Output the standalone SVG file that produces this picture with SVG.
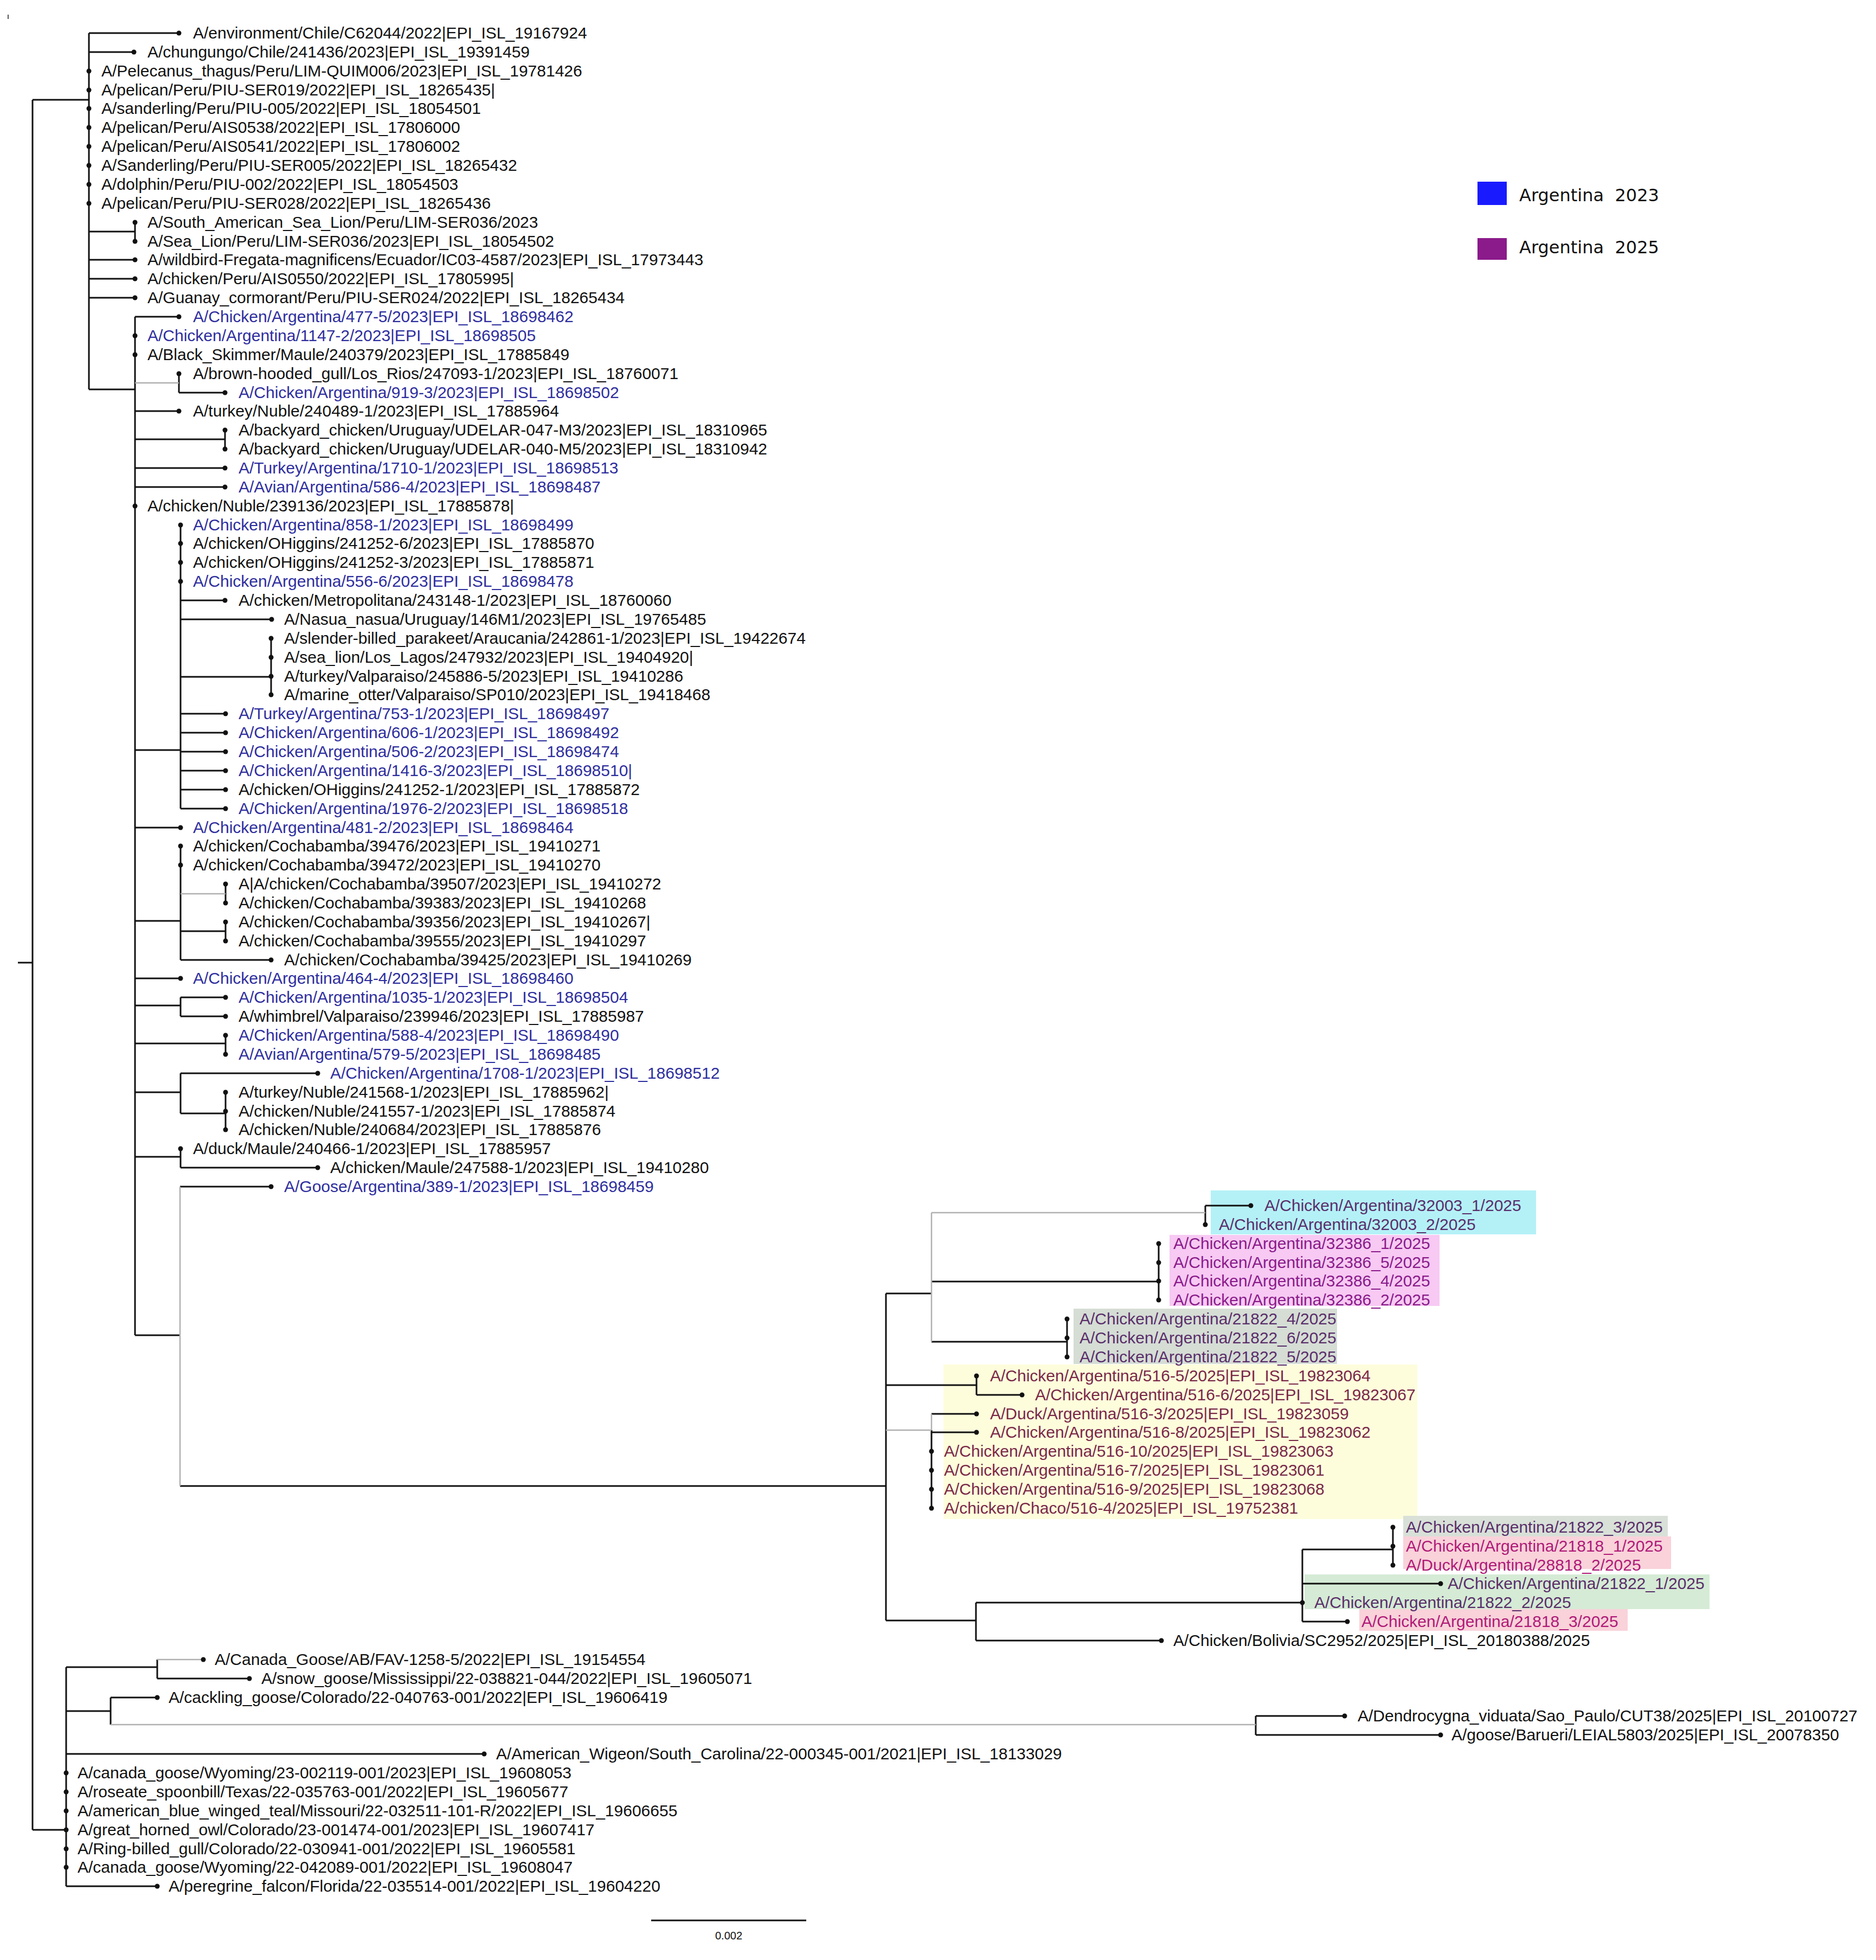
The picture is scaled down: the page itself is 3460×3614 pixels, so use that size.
<svg xmlns="http://www.w3.org/2000/svg" width="3460" height="3614" viewBox="0 0 3460 3614">
<style>
.e{stroke:#111;stroke-width:3;fill:none}
.g{stroke:#b0b0b0;stroke-width:2.5;fill:none}
.d{fill:#111}
text{font-family:"Liberation Sans",Arial,sans-serif;font-size:30px;fill:#111}
.b{fill:#2e2e9e}
.p{fill:#5a2e6a}
.m{fill:#8a1a8a}
.r{fill:#7a2848}
.k{fill:#b01a78}
.lg{font-family:"DejaVu Sans",sans-serif;font-size:32px;fill:#111}
</style>
<rect width="3460" height="3614" fill="#fff"/>
<g id="highlights">
<rect x="2233" y="2195" width="600" height="81" fill="#b4f1f7"/>
<rect x="2157" y="2277" width="498" height="131" fill="#f7c9f3"/>
<rect x="1980" y="2413" width="486" height="102" fill="#d5ddd5"/>
<rect x="1740" y="2516" width="874" height="285" fill="#fdfddc"/>
<rect x="2588" y="2795" width="488" height="38" fill="#d8e0d8"/>
<rect x="2588" y="2833" width="494" height="60" fill="#f9d2da"/>
<rect x="2406" y="2903" width="747" height="64" fill="#d5ebd5"/>
<rect x="2507" y="2967" width="495" height="40" fill="#f9d2da"/>
</g>
<g id="edges">
<path class="e" d="M33,1775H60 M60,184V3374 M60,184H164 M164,61V718 M164,61H330 M164,96H247 M164,427H249 M249,410V445 M164,479H249 M164,514H249 M164,549H249 M164,718H249 M249,584V2462 M249,584H330 M330,689V724 M330,724H415 M249,758H330 M249,810H415 M415,793V828 M249,863H415 M249,898H415"/>
<path class="e" d="M249,1383H333 M333,968V1491 M333,1107H415 M333,1142H501 M333,1248H500 M500,1177V1281 M333,1316H416 M333,1351H416 M333,1386H416 M333,1421H416 M333,1456H416 M333,1491H416 M249,1526H333"/>
<path class="e" d="M249,1698H333 M333,1560V1770 M416,1630V1665 M333,1717H416 M416,1700V1735 M333,1770H500 M249,1804H333 M249,1854H333 M333,1839V1874 M333,1839H416 M333,1874H416 M249,1924H416 M416,1909V1944 M249,2014H333 M333,1979V2053 M333,1979H586 M333,2053H416 M416,2014V2083 M249,2133H333 M333,2118V2153 M333,2153H586 M249,2462H332 M332,2188H500"/>
<path class="e" d="M332,2740H1634 M1634,2385V2988 M1634,2385H1718 M2223,2223V2258 M2223,2223H2307 M1718,2363H2137 M2137,2293V2397 M1718,2474H1968 M1968,2432V2502 M1634,2554H1801 M1801,2537V2572 M1801,2572H1885 M1718,2637V2781 M1718,2607H1801 M1718,2641H1801 M1634,2988H1800 M1800,2955V3025 M1800,2955H2402 M2402,2857V2990 M2402,2857H2569 M2569,2816V2886 M2402,2920H2657 M2402,2990H2485 M1800,3025H2142"/>
<path class="e" d="M60,3374H122 M122,3074V3478 M122,3074H290 M290,3060V3095 M290,3095H460 M122,3155H204 M204,3130V3180 M204,3130H290 M2316,3164V3199 M2316,3164H2480 M2316,3199H2657 M122,3234H893 M122,3478H290"/>
<path class="g" d="M249,706H330 M333,1648H416 M332,2188V2740 M1718,2236V2474 M1718,2236H2223 M1634,2637H1718 M1718,2607V2637 M204,3180H2316 M290,3060H375"/>
<path class="e" d="M1201,3541H1487"/>
<path stroke="#555" stroke-width="2" d="M15,27V35"/>
</g>
<g id="n1"><circle class="d" cx="330" cy="61" r="4.5"/><text x="356" y="71">A/environment/Chile/C62044/2022|EPI_ISL_19167924</text></g>
<g id="n2"><circle class="d" cx="247" cy="96" r="4.5"/><text x="272" y="106">A/chungungo/Chile/241436/2023|EPI_ISL_19391459</text></g>
<g id="n3"><circle class="d" cx="164" cy="131" r="4.5"/><text x="187" y="141">A/Pelecanus_thagus/Peru/LIM-QUIM006/2023|EPI_ISL_19781426</text></g>
<g id="n4"><circle class="d" cx="164" cy="166" r="4.5"/><text x="187" y="176">A/pelican/Peru/PIU-SER019/2022|EPI_ISL_18265435|</text></g>
<g id="n5"><circle class="d" cx="164" cy="200" r="4.5"/><text x="187" y="210">A/sanderling/Peru/PIU-005/2022|EPI_ISL_18054501</text></g>
<g id="n6"><circle class="d" cx="164" cy="235" r="4.5"/><text x="187" y="245">A/pelican/Peru/AIS0538/2022|EPI_ISL_17806000</text></g>
<g id="n7"><circle class="d" cx="164" cy="270" r="4.5"/><text x="187" y="280">A/pelican/Peru/AIS0541/2022|EPI_ISL_17806002</text></g>
<g id="n8"><circle class="d" cx="164" cy="305" r="4.5"/><text x="187" y="315">A/Sanderling/Peru/PIU-SER005/2022|EPI_ISL_18265432</text></g>
<g id="n9"><circle class="d" cx="164" cy="340" r="4.5"/><text x="187" y="350">A/dolphin/Peru/PIU-002/2022|EPI_ISL_18054503</text></g>
<g id="n10"><circle class="d" cx="164" cy="375" r="4.5"/><text x="187" y="385">A/pelican/Peru/PIU-SER028/2022|EPI_ISL_18265436</text></g>
<g id="n11"><circle class="d" cx="249" cy="410" r="4.5"/><text x="272" y="420">A/South_American_Sea_Lion/Peru/LIM-SER036/2023</text></g>
<g id="n12"><circle class="d" cx="249" cy="445" r="4.5"/><text x="272" y="455">A/Sea_Lion/Peru/LIM-SER036/2023|EPI_ISL_18054502</text></g>
<g id="n13"><circle class="d" cx="249" cy="479" r="4.5"/><text x="272" y="489">A/wildbird-Fregata-magnificens/Ecuador/IC03-4587/2023|EPI_ISL_17973443</text></g>
<g id="n14"><circle class="d" cx="249" cy="514" r="4.5"/><text x="272" y="524">A/chicken/Peru/AIS0550/2022|EPI_ISL_17805995|</text></g>
<g id="n15"><circle class="d" cx="249" cy="549" r="4.5"/><text x="272" y="559">A/Guanay_cormorant/Peru/PIU-SER024/2022|EPI_ISL_18265434</text></g>
<g id="n16"><circle class="d" cx="330" cy="584" r="4.5"/><text class="b" x="356" y="594">A/Chicken/Argentina/477-5/2023|EPI_ISL_18698462</text></g>
<g id="n17"><circle class="d" cx="249" cy="619" r="4.5"/><text class="b" x="272" y="629">A/Chicken/Argentina/1147-2/2023|EPI_ISL_18698505</text></g>
<g id="n18"><circle class="d" cx="249" cy="654" r="4.5"/><text x="272" y="664">A/Black_Skimmer/Maule/240379/2023|EPI_ISL_17885849</text></g>
<g id="n19"><circle class="d" cx="330" cy="689" r="4.5"/><text x="356" y="699">A/brown-hooded_gull/Los_Rios/247093-1/2023|EPI_ISL_18760071</text></g>
<g id="n20"><circle class="d" cx="415" cy="724" r="4.5"/><text class="b" x="440" y="734">A/Chicken/Argentina/919-3/2023|EPI_ISL_18698502</text></g>
<g id="n21"><circle class="d" cx="330" cy="758" r="4.5"/><text x="356" y="768">A/turkey/Nuble/240489-1/2023|EPI_ISL_17885964</text></g>
<g id="n22"><circle class="d" cx="415" cy="793" r="4.5"/><text x="440" y="803">A/backyard_chicken/Uruguay/UDELAR-047-M3/2023|EPI_ISL_18310965</text></g>
<g id="n23"><circle class="d" cx="415" cy="828" r="4.5"/><text x="440" y="838">A/backyard_chicken/Uruguay/UDELAR-040-M5/2023|EPI_ISL_18310942</text></g>
<g id="n24"><circle class="d" cx="415" cy="863" r="4.5"/><text class="b" x="440" y="873">A/Turkey/Argentina/1710-1/2023|EPI_ISL_18698513</text></g>
<g id="n25"><circle class="d" cx="415" cy="898" r="4.5"/><text class="b" x="440" y="908">A/Avian/Argentina/586-4/2023|EPI_ISL_18698487</text></g>
<g id="n26"><circle class="d" cx="249" cy="933" r="4.5"/><text x="272" y="943">A/chicken/Nuble/239136/2023|EPI_ISL_17885878|</text></g>
<g id="n27"><circle class="d" cx="333" cy="968" r="4.5"/><text class="b" x="356" y="978">A/Chicken/Argentina/858-1/2023|EPI_ISL_18698499</text></g>
<g id="n28"><circle class="d" cx="333" cy="1002" r="4.5"/><text x="356" y="1012">A/chicken/OHiggins/241252-6/2023|EPI_ISL_17885870</text></g>
<g id="n29"><circle class="d" cx="333" cy="1037" r="4.5"/><text x="356" y="1047">A/chicken/OHiggins/241252-3/2023|EPI_ISL_17885871</text></g>
<g id="n30"><circle class="d" cx="333" cy="1072" r="4.5"/><text class="b" x="356" y="1082">A/Chicken/Argentina/556-6/2023|EPI_ISL_18698478</text></g>
<g id="n31"><circle class="d" cx="415" cy="1107" r="4.5"/><text x="440" y="1117">A/chicken/Metropolitana/243148-1/2023|EPI_ISL_18760060</text></g>
<g id="n32"><circle class="d" cx="501" cy="1142" r="4.5"/><text x="524" y="1152">A/Nasua_nasua/Uruguay/146M1/2023|EPI_ISL_19765485</text></g>
<g id="n33"><circle class="d" cx="500" cy="1177" r="4.5"/><text x="524" y="1187">A/slender-billed_parakeet/Araucania/242861-1/2023|EPI_ISL_19422674</text></g>
<g id="n34"><circle class="d" cx="500" cy="1212" r="4.5"/><text x="524" y="1222">A/sea_lion/Los_Lagos/247932/2023|EPI_ISL_19404920|</text></g>
<g id="n35"><circle class="d" cx="500" cy="1247" r="4.5"/><text x="524" y="1257">A/turkey/Valparaiso/245886-5/2023|EPI_ISL_19410286</text></g>
<g id="n36"><circle class="d" cx="500" cy="1281" r="4.5"/><text x="524" y="1291">A/marine_otter/Valparaiso/SP010/2023|EPI_ISL_19418468</text></g>
<g id="n37"><circle class="d" cx="416" cy="1316" r="4.5"/><text class="b" x="440" y="1326">A/Turkey/Argentina/753-1/2023|EPI_ISL_18698497</text></g>
<g id="n38"><circle class="d" cx="416" cy="1351" r="4.5"/><text class="b" x="440" y="1361">A/Chicken/Argentina/606-1/2023|EPI_ISL_18698492</text></g>
<g id="n39"><circle class="d" cx="416" cy="1386" r="4.5"/><text class="b" x="440" y="1396">A/Chicken/Argentina/506-2/2023|EPI_ISL_18698474</text></g>
<g id="n40"><circle class="d" cx="416" cy="1421" r="4.5"/><text class="b" x="440" y="1431">A/Chicken/Argentina/1416-3/2023|EPI_ISL_18698510|</text></g>
<g id="n41"><circle class="d" cx="416" cy="1456" r="4.5"/><text x="440" y="1466">A/chicken/OHiggins/241252-1/2023|EPI_ISL_17885872</text></g>
<g id="n42"><circle class="d" cx="416" cy="1491" r="4.5"/><text class="b" x="440" y="1501">A/Chicken/Argentina/1976-2/2023|EPI_ISL_18698518</text></g>
<g id="n43"><circle class="d" cx="333" cy="1526" r="4.5"/><text class="b" x="356" y="1536">A/Chicken/Argentina/481-2/2023|EPI_ISL_18698464</text></g>
<g id="n44"><circle class="d" cx="333" cy="1560" r="4.5"/><text x="356" y="1570">A/chicken/Cochabamba/39476/2023|EPI_ISL_19410271</text></g>
<g id="n45"><circle class="d" cx="333" cy="1595" r="4.5"/><text x="356" y="1605">A/chicken/Cochabamba/39472/2023|EPI_ISL_19410270</text></g>
<g id="n46"><circle class="d" cx="416" cy="1630" r="4.5"/><text x="440" y="1640">A|A/chicken/Cochabamba/39507/2023|EPI_ISL_19410272</text></g>
<g id="n47"><circle class="d" cx="416" cy="1665" r="4.5"/><text x="440" y="1675">A/chicken/Cochabamba/39383/2023|EPI_ISL_19410268</text></g>
<g id="n48"><circle class="d" cx="416" cy="1700" r="4.5"/><text x="440" y="1710">A/chicken/Cochabamba/39356/2023|EPI_ISL_19410267|</text></g>
<g id="n49"><circle class="d" cx="416" cy="1735" r="4.5"/><text x="440" y="1745">A/chicken/Cochabamba/39555/2023|EPI_ISL_19410297</text></g>
<g id="n50"><circle class="d" cx="500" cy="1770" r="4.5"/><text x="524" y="1780">A/chicken/Cochabamba/39425/2023|EPI_ISL_19410269</text></g>
<g id="n51"><circle class="d" cx="333" cy="1804" r="4.5"/><text class="b" x="356" y="1814">A/Chicken/Argentina/464-4/2023|EPI_ISL_18698460</text></g>
<g id="n52"><circle class="d" cx="416" cy="1839" r="4.5"/><text class="b" x="440" y="1849">A/Chicken/Argentina/1035-1/2023|EPI_ISL_18698504</text></g>
<g id="n53"><circle class="d" cx="416" cy="1874" r="4.5"/><text x="440" y="1884">A/whimbrel/Valparaiso/239946/2023|EPI_ISL_17885987</text></g>
<g id="n54"><circle class="d" cx="416" cy="1909" r="4.5"/><text class="b" x="440" y="1919">A/Chicken/Argentina/588-4/2023|EPI_ISL_18698490</text></g>
<g id="n55"><circle class="d" cx="416" cy="1944" r="4.5"/><text class="b" x="440" y="1954">A/Avian/Argentina/579-5/2023|EPI_ISL_18698485</text></g>
<g id="n56"><circle class="d" cx="586" cy="1979" r="4.5"/><text class="b" x="609" y="1989">A/Chicken/Argentina/1708-1/2023|EPI_ISL_18698512</text></g>
<g id="n57"><circle class="d" cx="416" cy="2014" r="4.5"/><text x="440" y="2024">A/turkey/Nuble/241568-1/2023|EPI_ISL_17885962|</text></g>
<g id="n58"><circle class="d" cx="416" cy="2049" r="4.5"/><text x="440" y="2059">A/chicken/Nuble/241557-1/2023|EPI_ISL_17885874</text></g>
<g id="n59"><circle class="d" cx="416" cy="2083" r="4.5"/><text x="440" y="2093">A/chicken/Nuble/240684/2023|EPI_ISL_17885876</text></g>
<g id="n60"><circle class="d" cx="333" cy="2118" r="4.5"/><text x="356" y="2128">A/duck/Maule/240466-1/2023|EPI_ISL_17885957</text></g>
<g id="n61"><circle class="d" cx="586" cy="2153" r="4.5"/><text x="609" y="2163">A/chicken/Maule/247588-1/2023|EPI_ISL_19410280</text></g>
<g id="n62"><circle class="d" cx="500" cy="2188" r="4.5"/><text class="b" x="524" y="2198">A/Goose/Argentina/389-1/2023|EPI_ISL_18698459</text></g>
<g id="n63"><circle class="d" cx="2307" cy="2223" r="4.5"/><text class="p" x="2332" y="2233">A/Chicken/Argentina/32003_1/2025</text></g>
<g id="n64"><circle class="d" cx="2223" cy="2258" r="4.5"/><text class="p" x="2248" y="2268">A/Chicken/Argentina/32003_2/2025</text></g>
<g id="n65"><circle class="d" cx="2137" cy="2293" r="4.5"/><text class="m" x="2164" y="2303">A/Chicken/Argentina/32386_1/2025</text></g>
<g id="n66"><circle class="d" cx="2137" cy="2328" r="4.5"/><text class="m" x="2164" y="2338">A/Chicken/Argentina/32386_5/2025</text></g>
<g id="n67"><circle class="d" cx="2137" cy="2362" r="4.5"/><text class="m" x="2164" y="2372">A/Chicken/Argentina/32386_4/2025</text></g>
<g id="n68"><circle class="d" cx="2137" cy="2397" r="4.5"/><text class="m" x="2164" y="2407">A/Chicken/Argentina/32386_2/2025</text></g>
<g id="n69"><circle class="d" cx="1968" cy="2432" r="4.5"/><text class="p" x="1991" y="2442">A/Chicken/Argentina/21822_4/2025</text></g>
<g id="n70"><circle class="d" cx="1968" cy="2467" r="4.5"/><text class="p" x="1991" y="2477">A/Chicken/Argentina/21822_6/2025</text></g>
<g id="n71"><circle class="d" cx="1968" cy="2502" r="4.5"/><text class="p" x="1991" y="2512">A/Chicken/Argentina/21822_5/2025</text></g>
<g id="n72"><circle class="d" cx="1801" cy="2537" r="4.5"/><text class="r" x="1826" y="2547">A/Chicken/Argentina/516-5/2025|EPI_ISL_19823064</text></g>
<g id="n73"><circle class="d" cx="1885" cy="2572" r="4.5"/><text class="r" x="1909" y="2582">A/Chicken/Argentina/516-6/2025|EPI_ISL_19823067</text></g>
<g id="n74"><circle class="d" cx="1801" cy="2607" r="4.5"/><text class="r" x="1826" y="2617">A/Duck/Argentina/516-3/2025|EPI_ISL_19823059</text></g>
<g id="n75"><circle class="d" cx="1801" cy="2641" r="4.5"/><text class="r" x="1826" y="2651">A/Chicken/Argentina/516-8/2025|EPI_ISL_19823062</text></g>
<g id="n76"><circle class="d" cx="1718" cy="2676" r="4.5"/><text class="r" x="1741" y="2686">A/Chicken/Argentina/516-10/2025|EPI_ISL_19823063</text></g>
<g id="n77"><circle class="d" cx="1718" cy="2711" r="4.5"/><text class="r" x="1741" y="2721">A/Chicken/Argentina/516-7/2025|EPI_ISL_19823061</text></g>
<g id="n78"><circle class="d" cx="1718" cy="2746" r="4.5"/><text class="r" x="1741" y="2756">A/Chicken/Argentina/516-9/2025|EPI_ISL_19823068</text></g>
<g id="n79"><circle class="d" cx="1718" cy="2781" r="4.5"/><text class="r" x="1741" y="2791">A/chicken/Chaco/516-4/2025|EPI_ISL_19752381</text></g>
<g id="n80"><circle class="d" cx="2569" cy="2816" r="4.5"/><text class="p" x="2593" y="2826">A/Chicken/Argentina/21822_3/2025</text></g>
<g id="n81"><circle class="d" cx="2569" cy="2851" r="4.5"/><text class="k" x="2593" y="2861">A/Chicken/Argentina/21818_1/2025</text></g>
<g id="n82"><circle class="d" cx="2569" cy="2886" r="4.5"/><text class="k" x="2593" y="2896">A/Duck/Argentina/28818_2/2025</text></g>
<g id="n83"><circle class="d" cx="2657" cy="2920" r="4.5"/><text class="p" x="2670" y="2930">A/Chicken/Argentina/21822_1/2025</text></g>
<g id="n84"><circle class="d" cx="2402" cy="2955" r="4.5"/><text class="p" x="2424" y="2965">A/Chicken/Argentina/21822_2/2025</text></g>
<g id="n85"><circle class="d" cx="2485" cy="2990" r="4.5"/><text class="k" x="2511" y="3000">A/Chicken/Argentina/21818_3/2025</text></g>
<g id="n86"><circle class="d" cx="2142" cy="3025" r="4.5"/><text x="2164" y="3035">A/Chicken/Bolivia/SC2952/2025|EPI_ISL_20180388/2025</text></g>
<g id="n87"><circle class="d" cx="375" cy="3060" r="4.5"/><text x="396" y="3070">A/Canada_Goose/AB/FAV-1258-5/2022|EPI_ISL_19154554</text></g>
<g id="n88"><circle class="d" cx="460" cy="3095" r="4.5"/><text x="482" y="3105">A/snow_goose/Mississippi/22-038821-044/2022|EPI_ISL_19605071</text></g>
<g id="n89"><circle class="d" cx="290" cy="3130" r="4.5"/><text x="311" y="3140">A/cackling_goose/Colorado/22-040763-001/2022|EPI_ISL_19606419</text></g>
<g id="n90"><circle class="d" cx="2480" cy="3164" r="4.5"/><text x="2504" y="3174">A/Dendrocygna_viduata/Sao_Paulo/CUT38/2025|EPI_ISL_20100727</text></g>
<g id="n91"><circle class="d" cx="2657" cy="3199" r="4.5"/><text x="2677" y="3209">A/goose/Barueri/LEIAL5803/2025|EPI_ISL_20078350</text></g>
<g id="n92"><circle class="d" cx="893" cy="3234" r="4.5"/><text x="915" y="3244">A/American_Wigeon/South_Carolina/22-000345-001/2021|EPI_ISL_18133029</text></g>
<g id="n93"><circle class="d" cx="122" cy="3269" r="4.5"/><text x="143" y="3279">A/canada_goose/Wyoming/23-002119-001/2023|EPI_ISL_19608053</text></g>
<g id="n94"><circle class="d" cx="122" cy="3304" r="4.5"/><text x="143" y="3314">A/roseate_spoonbill/Texas/22-035763-001/2022|EPI_ISL_19605677</text></g>
<g id="n95"><circle class="d" cx="122" cy="3339" r="4.5"/><text x="143" y="3349">A/american_blue_winged_teal/Missouri/22-032511-101-R/2022|EPI_ISL_19606655</text></g>
<g id="n96"><circle class="d" cx="122" cy="3374" r="4.5"/><text x="143" y="3384">A/great_horned_owl/Colorado/23-001474-001/2023|EPI_ISL_19607417</text></g>
<g id="n97"><circle class="d" cx="122" cy="3409" r="4.5"/><text x="143" y="3419">A/Ring-billed_gull/Colorado/22-030941-001/2022|EPI_ISL_19605581</text></g>
<g id="n98"><circle class="d" cx="122" cy="3443" r="4.5"/><text x="143" y="3453">A/canada_goose/Wyoming/22-042089-001/2022|EPI_ISL_19608047</text></g>
<g id="n99"><circle class="d" cx="290" cy="3478" r="4.5"/><text x="311" y="3488">A/peregrine_falcon/Florida/22-035514-001/2022|EPI_ISL_19604220</text></g>
<g id="scale"><text x="1344" y="3576" text-anchor="middle" style="font-size:20px">0.002</text></g>
<g id="legend">
<rect x="2725" y="335" width="54" height="43" fill="#1a1aff"/>
<text class="lg" x="2802" y="371" xml:space="preserve">Argentina  2023</text>
<rect x="2725" y="439" width="54" height="40" fill="#8b1a8b"/>
<text class="lg" x="2802" y="467" xml:space="preserve">Argentina  2025</text>
</g>
</svg>
